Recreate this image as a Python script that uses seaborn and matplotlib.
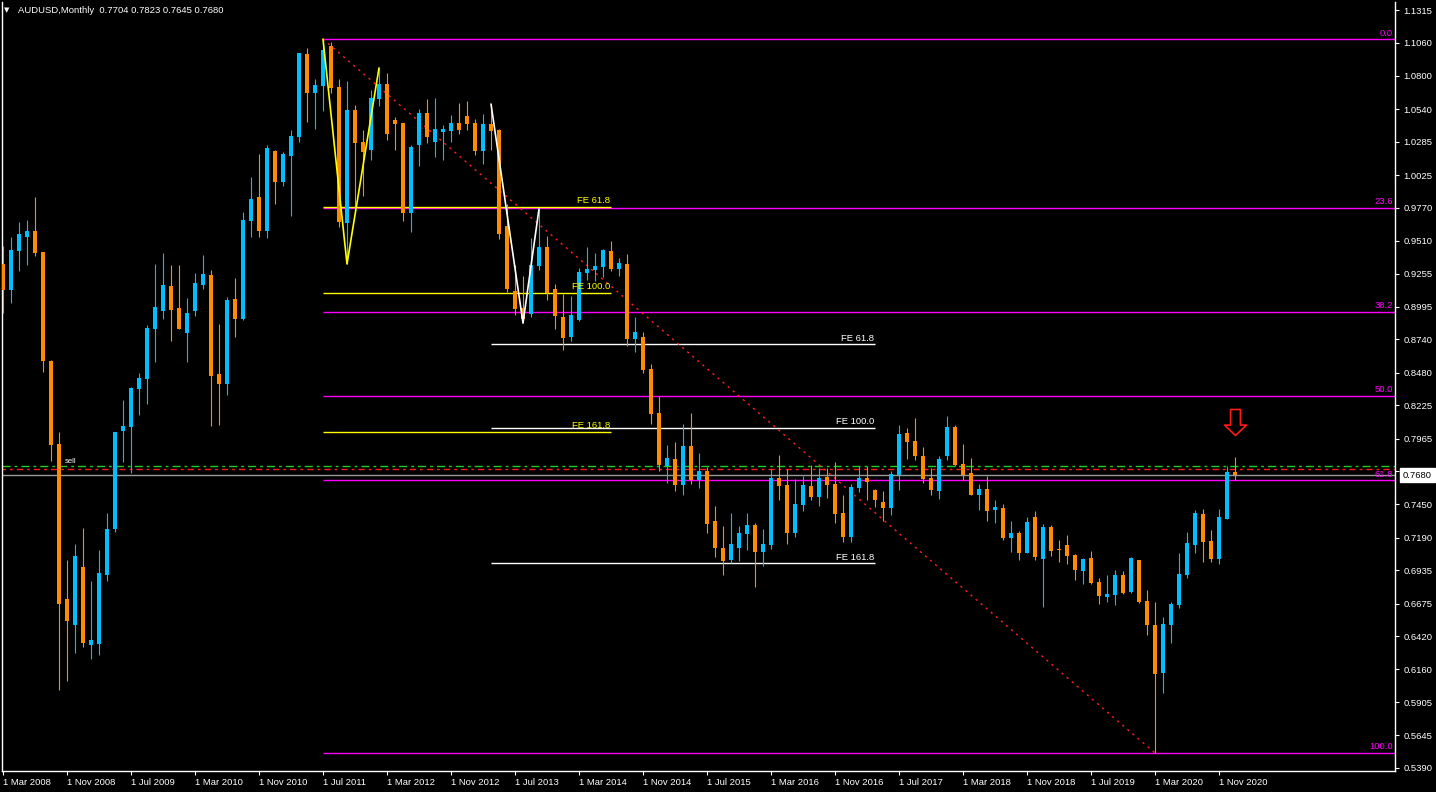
import numpy as np
import pandas as pd
import matplotlib
matplotlib.use("Agg")
import matplotlib.pyplot as plt
import matplotlib.transforms as mtransforms
from matplotlib.path import Path
import seaborn as sns

# ---------------- data ----------------
symbol = "AUDUSD"
timeframe = "Monthly"
start_month = "2008-03-01"

opens = [
    0.9330, 0.9126, 0.9431, 0.9541, 0.9588, 0.9423, 0.8571, 0.7923, 0.6711, 0.6508,
    0.6961, 0.6351, 0.6359, 0.6898, 0.7258, 0.8024, 0.8055, 0.8352, 0.8430, 0.8821,
    0.8962, 0.9158, 0.8986, 0.8790, 0.8962, 0.9166, 0.9243, 0.8470, 0.8391, 0.9056,
    0.8900, 0.9666, 0.9853, 0.9588, 1.0213, 0.9970, 1.0174, 1.0322, 1.0971, 1.0666,
    1.0721, 1.1034, 1.0713, 0.9650, 1.0533, 1.0283, 1.0221, 1.0619, 1.0737, 1.0455,
    1.0432, 0.9728, 1.0260, 1.0510, 1.0283, 1.0362, 1.0369, 1.0432, 1.0486, 1.0432,
    1.0213, 1.0424, 1.0377, 0.9627, 0.9119, 0.8986, 0.8939, 0.9314, 0.9463, 0.9134,
    0.8915, 0.8759, 0.8892, 0.9259, 0.9283, 0.9306, 0.9431, 0.9290, 0.9330, 0.8743,
    0.8759, 0.8509, 0.8165, 0.7751, 0.7806, 0.7602, 0.7907, 0.7641, 0.7712, 0.7321,
    0.7110, 0.7016, 0.7110, 0.7219, 0.7290, 0.7079, 0.7133, 0.7657, 0.7602, 0.7227,
    0.7446, 0.7594, 0.7508, 0.7665, 0.7610, 0.7383, 0.7196, 0.7579, 0.7657, 0.7563,
    0.7469, 0.7422, 0.7680, 0.8009, 0.7946, 0.7829, 0.7657, 0.7555, 0.7829, 0.8055,
    0.7767, 0.7696, 0.7524, 0.7571, 0.7407, 0.7422, 0.7188, 0.7227, 0.7071, 0.7352,
    0.7024, 0.7274, 0.7102, 0.7133, 0.7055, 0.6930, 0.7032, 0.6844, 0.6727, 0.6742,
    0.6899, 0.6766, 0.7016, 0.6696, 0.6508, 0.6133, 0.6508, 0.6664, 0.6899, 0.7133,
    0.7376, 0.7165, 0.7024, 0.7337, 0.7704]

highs = [
    0.9470, 0.9541, 0.9658, 0.9674, 0.9853, 0.9423, 0.8579, 0.8016, 0.7016, 0.7141,
    0.7266, 0.6852, 0.7094, 0.7383, 0.8016, 0.8267, 0.8368, 0.8478, 0.8853, 0.9330,
    0.9416, 0.9322, 0.9322, 0.9064, 0.9259, 0.9400, 0.9283, 0.8861, 0.9072, 0.9220,
    0.9736, 1.0010, 1.0189, 1.0260, 1.0221, 1.0205, 1.0377, 1.0979, 1.1018, 1.0776,
    1.1088, 1.1065, 1.0776, 1.0760, 1.0573, 1.0377, 1.0690, 1.0862, 1.0823, 1.0479,
    1.0432, 1.0260, 1.0541, 1.0619, 1.0627, 1.0416, 1.0494, 1.0588, 1.0604, 1.0463,
    1.0502, 1.0580, 1.0385, 0.9799, 0.9322, 0.9236, 0.9533, 0.9760, 0.9549, 0.9173,
    0.9095, 0.9080, 0.9298, 0.9463, 0.9416, 0.9447, 0.9510, 0.9377, 0.9408, 0.8915,
    0.8798, 0.8548, 0.8298, 0.7915, 0.7939, 0.8079, 0.8165, 0.7852, 0.7743, 0.7438,
    0.7282, 0.7383, 0.7282, 0.7383, 0.7305, 0.7258, 0.7727, 0.7837, 0.7727, 0.7649,
    0.7672, 0.7759, 0.7735, 0.7735, 0.7782, 0.7524, 0.7610, 0.7751, 0.7751, 0.7571,
    0.7555, 0.7712, 0.8071, 0.8048, 0.8126, 0.7899, 0.7735, 0.7829, 0.8141, 0.8071,
    0.7923, 0.7813, 0.7610, 0.7672, 0.7485, 0.7454, 0.7321, 0.7243, 0.7352, 0.7399,
    0.7298, 0.7290, 0.7172, 0.7211, 0.7063, 0.7032, 0.7086, 0.6875, 0.6899, 0.6938,
    0.6930, 0.7040, 0.7016, 0.6782, 0.6688, 0.6571, 0.6688, 0.7071, 0.7235, 0.7407,
    0.7415, 0.7250, 0.7415, 0.7751, 0.7823]

lows = [
    0.8947, 0.9025, 0.9275, 0.9322, 0.9392, 0.8485, 0.7790, 0.5999, 0.6070, 0.6289,
    0.6336, 0.6242, 0.6273, 0.6852, 0.7235, 0.7782, 0.7696, 0.8149, 0.8235, 0.8563,
    0.8900, 0.8728, 0.8821, 0.8563, 0.8923, 0.9134, 0.8063, 0.8071, 0.8306, 0.8759,
    0.8892, 0.9541, 0.9541, 0.9533, 0.9799, 0.9939, 0.9705, 1.0283, 1.0440, 1.0385,
    1.0526, 1.0666, 0.9619, 0.9330, 0.9751, 0.9861, 1.0143, 1.0565, 1.0299, 1.0221,
    0.9666, 0.9580, 1.0096, 1.0275, 1.0166, 1.0143, 1.0283, 1.0346, 1.0377, 1.0182,
    1.0111, 1.0221, 0.9525, 0.9111, 0.8931, 0.8868, 0.8915, 0.9283, 0.9048, 0.8821,
    0.8657, 0.8728, 0.8884, 0.9205, 0.9197, 0.9228, 0.9275, 0.9236, 0.8688, 0.8642,
    0.8477, 0.8079, 0.7712, 0.7618, 0.7555, 0.7524, 0.7610, 0.7579, 0.7227, 0.7040,
    0.6899, 0.6993, 0.7008, 0.7094, 0.6805, 0.6969, 0.7102, 0.7485, 0.7141, 0.7196,
    0.7399, 0.7485, 0.7438, 0.7500, 0.7305, 0.7157, 0.7157, 0.7548, 0.7485, 0.7430,
    0.7321, 0.7368, 0.7563, 0.7806, 0.7798, 0.7618, 0.7524, 0.7493, 0.7798, 0.7751,
    0.7641, 0.7524, 0.7407, 0.7321, 0.7305, 0.7172, 0.7079, 0.7016, 0.7071, 0.7016,
    0.6649, 0.7047, 0.7001, 0.6985, 0.6860, 0.6828, 0.6828, 0.6672, 0.6688, 0.6664,
    0.6750, 0.6758, 0.6680, 0.6430, 0.5507, 0.5977, 0.6367, 0.6641, 0.6875, 0.7071,
    0.7001, 0.7001, 0.6985, 0.7337, 0.7645]

closes = [
    0.9126, 0.9439, 0.9564, 0.9588, 0.9416, 0.8571, 0.7915, 0.6672, 0.6539, 0.7047,
    0.6367, 0.6390, 0.6914, 0.7258, 0.8016, 0.8063, 0.8360, 0.8438, 0.8829, 0.8993,
    0.9166, 0.8970, 0.8821, 0.8946, 0.9181, 0.9251, 0.8454, 0.8391, 0.9048, 0.8900,
    0.9674, 0.9838, 0.9588, 1.0236, 0.9970, 1.0189, 1.0330, 1.0979, 1.0666, 1.0729,
    1.1002, 1.0705, 0.9658, 1.0533, 1.0275, 1.0205, 1.0627, 1.0737, 1.0346, 1.0424,
    0.9728, 1.0244, 1.0510, 1.0322, 1.0385, 1.0385, 1.0432, 1.0377, 1.0424, 1.0213,
    1.0424, 1.0369, 0.9564, 0.9134, 0.8978, 0.8900, 0.9322, 0.9463, 0.9103, 0.8923,
    0.8751, 0.8931, 0.9267, 0.9290, 0.9314, 0.9439, 0.9290, 0.9337, 0.8743, 0.8798,
    0.8501, 0.8157, 0.7759, 0.7813, 0.7602, 0.7907, 0.7641, 0.7712, 0.7298, 0.7110,
    0.7008, 0.7141, 0.7227, 0.7290, 0.7079, 0.7141, 0.7657, 0.7594, 0.7227, 0.7454,
    0.7602, 0.7508, 0.7657, 0.7602, 0.7376, 0.7196, 0.7587, 0.7657, 0.7626, 0.7485,
    0.7422, 0.7688, 0.8001, 0.7939, 0.7829, 0.7649, 0.7563, 0.7806, 0.8055, 0.7759,
    0.7680, 0.7524, 0.7571, 0.7399, 0.7430, 0.7188, 0.7227, 0.7071, 0.7313, 0.7040,
    0.7274, 0.7086, 0.7094, 0.7047, 0.6938, 0.7024, 0.6836, 0.6735, 0.6750, 0.6899,
    0.6758, 0.7032, 0.6688, 0.6508, 0.6125, 0.6516, 0.6672, 0.6906, 0.7149, 0.7383,
    0.7157, 0.7024, 0.7352, 0.7704, 0.7680]

ytick_labels = ["1.1315", "1.1060", "1.0800", "1.0540", "1.0285", "1.0025", "0.9770",
                "0.9510", "0.9255", "0.8995", "0.8740", "0.8480", "0.8225", "0.7965",
                "0.7710", "0.7450", "0.7190", "0.6935", "0.6675", "0.6420", "0.6160",
                "0.5905", "0.5645", "0.5390"]

fib_ratios = [0.0, 23.6, 38.2, 50.0, 61.8, 100.0]
fe_ratios = [61.8, 100.0, 161.8]

# pivot candles (indices) of the drawn objects
fib_high_i, fib_low_i = 40, 144
fe1_pts = (40, 43, 47)
fe2_pts = (61, 65, 67)
fe1_end, fe2_end = 76, 109

order_open = 0.7750
order_sl = 0.7727
order_label_i = 7.7

# ---------------- style ----------------
sns.set_theme(style="dark", rc={
    "axes.facecolor": "black", "figure.facecolor": "black",
    "axes.edgecolor": "white", "text.color": "white",
    "xtick.color": "white", "ytick.color": "white", "axes.grid": False})
plt.rcParams["font.family"] = ["Liberation Sans", "DejaVu Sans"]

BULL = "#00BFFF"
BEAR = "#FF8C00"
MAGENTA = "#FF00FF"
YELLOW = "#FFFF00"
FS = 6.8

n = len(opens)
idx = np.arange(n)
dates = pd.date_range(start_month, periods=n, freq="MS")
df = pd.DataFrame(dict(i=idx, open=opens, high=highs, low=lows, close=closes))
df["bull"] = df["close"] >= df["open"]

W, H = 1436, 792
fig = plt.figure(figsize=(W / 100, H / 100), dpi=100, facecolor="black")
ax = fig.add_axes([2 / W, 21 / H, 1393 / W, 769 / H])
ax.set_facecolor("black")
x_left, x_right = -0.125, 174.0
y_bottom, y_top = 0.53664, 1.13776

blend = mtransforms.blended_transform_factory(ax.transAxes, ax.transData)

# ---------------- horizontal objects ----------------
ax.axhline(df["close"].iloc[-1], color="#9A9A9A", lw=1, zorder=1)
ax.axhline(order_open, color="#22CC22", lw=1, ls=(0, (5.8, 2.9, 2, 2.9)), zorder=1)
ax.axhline(order_sl, color="#FF1A1A", lw=1, ls=(2, (4.5, 2.9, 2, 2.9)), zorder=1)
ax.text(order_label_i, order_open + 0.0008, "sell", color="white", fontsize=5.5,
        ha="left", va="bottom", zorder=5)

# Fibonacci retracement
fib_hi = df["high"][fib_high_i]
fib_lo = df["low"][fib_low_i]
for r in fib_ratios:
    lvl = fib_hi - r / 100 * (fib_hi - fib_lo)
    ax.hlines(lvl, fib_high_i, x_right, color=MAGENTA, lw=1, zorder=1)
    ax.text(0.9985, lvl + 0.0012, f"{r:.1f}", transform=blend, ha="right", va="bottom",
            color=MAGENTA, fontsize=FS, zorder=5)

# Fibonacci expansions
def fe_levels(pts):
    a, b, c = pts
    A = df["high"][a]
    B = df["low"][b]
    C = df["high"][c]
    return [C - r / 100 * (A - B) for r in fe_ratios]

for pts, end, col in [(fe1_pts, fe1_end, YELLOW), (fe2_pts, fe2_end, "white")]:
    for r, lvl in zip(fe_ratios, fe_levels(pts)):
        ax.hlines(lvl, pts[0], end, color=col, lw=1, zorder=2)
        ax.text(end - 0.1, lvl + 0.0012, f"FE {r:.1f}", ha="right", va="bottom",
                color=col, fontsize=FS, zorder=5)

# trend line (dotted red)
ax.plot([fib_high_i, fib_low_i], [fib_hi, fib_lo], color="#FF2020", lw=1,
        ls=(0, (1.6, 3.2)), zorder=2)

# ---------------- candles ----------------
colors = np.where(df["bull"], BULL, BEAR)
ax.vlines(df["i"], df["low"], df["high"], colors=colors, lw=0.8, zorder=3)
body_lo = np.minimum(df["open"], df["close"])
body_h = np.maximum((df["close"] - df["open"]).abs(), 0.0008)
ax.bar(df["i"], body_h, bottom=body_lo, width=0.62, color=colors, linewidth=0, zorder=4)

# zigzags (seaborn)
for pts, col in [(fe1_pts, YELLOW), (fe2_pts, "white")]:
    zz = pd.DataFrame({"i": list(pts),
                       "p": [df["high"][pts[0]], df["low"][pts[1]], df["high"][pts[2]]]})
    sns.lineplot(data=zz, x="i", y="p", sort=False, estimator=None, color=col,
                 lw=1.2, ax=ax, zorder=6, legend=False)

# down arrow above the last candle
arrow_verts = [(-0.19, 0.5), (0.19, 0.5), (0.19, -0.1), (0.42, -0.1), (0.0, -0.5),
               (-0.42, -0.1), (-0.19, -0.1), (-0.19, 0.5)]
arrow = Path(arrow_verts, [Path.MOVETO] + [Path.LINETO] * 6 + [Path.CLOSEPOLY])
ax.plot([idx[-1]], [df["high"].iloc[-1] + 0.027], marker=arrow, ms=18.7, mfc="none",
        mec="#FF1A1A", mew=1.2, ls="none", zorder=8)

# ---------------- axes ----------------
ax.set_xlim(x_left, x_right)
ax.set_ylim(y_bottom, y_top)
ax.set_xlabel("")
ax.set_ylabel("")
ax.grid(False)

ax.yaxis.tick_right()
ax.set_yticks([float(t) for t in ytick_labels])
ax.set_yticklabels(ytick_labels)
ax.tick_params(axis="y", right=True, left=False, labelright=True, labelleft=False,
               direction="out", length=3, width=0.8, pad=3, labelsize=FS,
               colors="white")

ax.set_xticks(idx[::8])
ax.set_xticklabels([f"{d.day} {d:%b %Y}" for d in dates[::8]], ha="left")
ax.tick_params(axis="x", bottom=True, direction="out", length=3, width=0.8, pad=2,
               labelsize=FS, colors="white")

for side in ["left", "bottom", "right"]:
    ax.spines[side].set_visible(True)
    ax.spines[side].set_color("white")
    ax.spines[side].set_linewidth(1)
ax.spines["top"].set_visible(False)

# current price box
last = df["close"].iloc[-1]
ax.text(1.0058, last, f"{last:.4f}", transform=blend, ha="left", va="center",
        fontsize=FS, color="black", zorder=10, clip_on=False,
        bbox=dict(boxstyle="square,pad=0.3", fc="white", ec="white"))

# header
fig.text(4 / W, 1 - 10.5 / H, "\u25BC", color="white", fontsize=5, ha="left", va="center",
         family="DejaVu Sans")
fig.text(18 / W, 1 - 10.5 / H,
         f"{symbol},{timeframe}  {opens[-1]:.4f} {highs[-1]:.4f} {lows[-1]:.4f} {closes[-1]:.4f}",
         color="white", fontsize=FS, ha="left", va="center")

fig.savefig("out.png", dpi=100, facecolor="black")
